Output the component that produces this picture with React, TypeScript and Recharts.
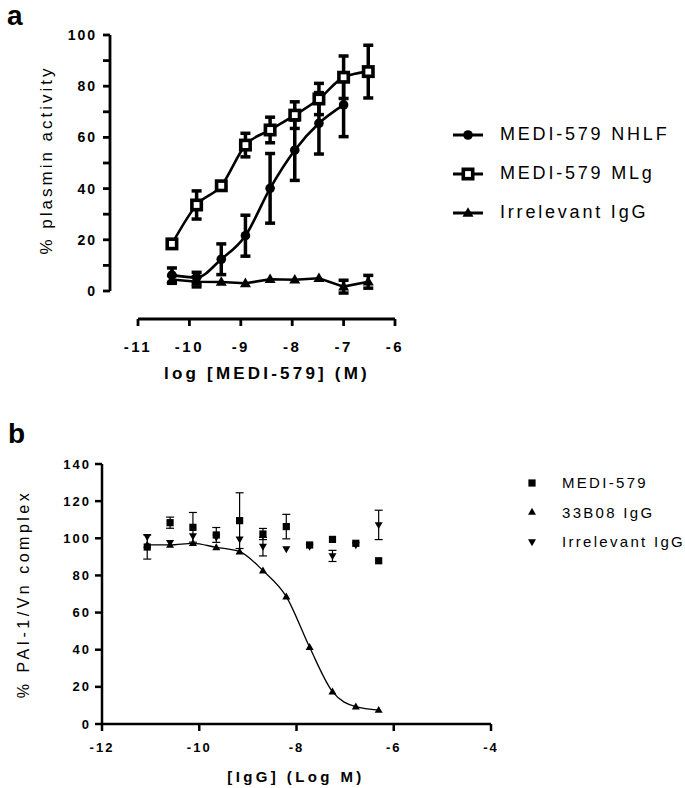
import React from "react";
import { ComposedChart, Line, Scatter, XAxis, YAxis, ErrorBar, ReferenceLine } from "recharts";

const FONT = "'Liberation Sans', Arial, sans-serif";

// panel a: 3-fold dilutions, log [MEDI-579] (M)
const doseA = [-10.34, -9.86, -9.38, -8.91, -8.43, -7.95, -7.48, -7.0, -6.52];
const nhlfMean = [6.2, 5.3, 12.4, 21.6, 40.1, 55.0, 65.5, 72.7];
const nhlfErr = [2.8, 2.0, 6.0, 8.0, 13.6, 11.8, 12.0, 12.4];
const mlgMean = [18.4, 33.6, 41.1, 57.0, 62.9, 68.7, 75.0, 83.5, 85.7];
const mlgErr = [null, 5.5, null, 4.6, 5.0, 5.2, 6.1, 8.3, 10.3];
const irrAMean = [4.5, 3.6, 3.5, 3.0, 4.6, 4.4, 5.0, 1.7, 3.6];
const irrAErr = [1.5, 2.0, null, null, null, null, null, 2.5, 2.5];
const ticksAX = [-11, -10, -9, -8, -7, -6];
const ticksAY = [0, 10, 20, 30, 40, 50, 60, 70, 80, 90, 100];

// panel b: [IgG] (Log M)
const doseB = [-11.07, -10.6, -10.13, -9.65, -9.17, -8.69, -8.21, -7.73, -7.26, -6.78, -6.31];
const medMean = [95.3, 108.4, 105.9, 101.8, 109.5, 102.3, 106.3, 96.4, 99.4, 97.3, 87.9];
const medErr = [6.5, 3.0, 8.0, 4.0, 15.0, 3.0, 6.6, null, null, null, null];
const b33Mean = [96.4, 96.4, 97.3, 95.1, 92.8, 82.6, 68.6, 41.3, 17.4, 9.3, 7.5];
const irrBMean = [100.8, 97.6, 101.2, 100.5, 99.4, 95.5, 94.2, 95.5, 90.5, 96.4, 107.2];
const irrBErr = [null, null, null, null, null, 5.0, null, null, 3.0, null, 7.9];
const ticksBX = [-12, -10, -8, -6, -4];
const ticksBY = [0, 20, 40, 60, 80, 100, 120, 140];

const rows = (xs: number[], ys: number[], es?: (number | null)[]) =>
  ys.map((y, i) => ({ x: xs[i], y, err: es ? es[i] : null }));

const nhlfRows = rows(doseA, nhlfMean, nhlfErr);
const mlgRows = rows(doseA, mlgMean, mlgErr);
const irrARows = rows(doseA, irrAMean, irrAErr);
const medRows = rows(doseB, medMean, medErr);
const b33Rows = rows(doseB, b33Mean);
const irrBRows = rows(doseB, irrBMean, irrBErr);

// panel a axis geometry (offset axes, Prism style)
const A_LEFT = 110;
const A_BOTTOM = 319;
const X_MIN_A = -11.545;
const Y_MIN_A = -10.94;

// panel b geometry (chart placed 400px down)
const B_LEFT = 102;
const B_BOTTOM = 324;

const tri = (cx: number, cy: number, s: number, up = true) => {
  const h = s * 0.87;
  return up
    ? `M${cx},${cy - h * 0.6} L${cx + s / 2},${cy + h * 0.4} L${cx - s / 2},${cy + h * 0.4} Z`
    : `M${cx},${cy + h * 0.6} L${cx + s / 2},${cy - h * 0.4} L${cx - s / 2},${cy - h * 0.4} Z`;
};

const dotCircle = (p: any) => <circle key={`c${p.index}`} cx={p.cx} cy={p.cy} r={4.8} fill="#000" />;
const dotOpenSq = (p: any) => (
  <rect key={`s${p.index}`} x={p.cx - 4.7} y={p.cy - 4.7} width={9.4} height={9.4} fill="#fff" stroke="#000" strokeWidth={3.6} />
);
const dotTriA = (p: any) => <path key={`t${p.index}`} d={tri(p.cx, p.cy, 11)} fill="#000" />;
const dotTriB = (p: any) => <path key={`u${p.index}`} d={tri(p.cx, p.cy, 8)} fill="#000" />;
const shapeSqB = (p: any) => <rect x={p.cx - 3.6} y={p.cy - 3.6} width={7.2} height={7.2} fill="#000" />;
const shapeDownB = (p: any) => <path d={tri(p.cx, p.cy, 8, false)} fill="#000" />;

const tickA_Y = (p: any) => {
  const v = p.payload.value;
  const major = v % 20 === 0;
  return (
    <g key={`ay${v}`}>
      <line x1={A_LEFT - 7} x2={A_LEFT} y1={p.y} y2={p.y} stroke="#000" strokeWidth={2.8} />
      {major && (
        <text x={97} y={p.y + 5} textAnchor="end" fontSize={14} fontWeight={700} letterSpacing={2} fontFamily={FONT} fill="#000">
          {v}
        </text>
      )}
    </g>
  );
};

const tickA_X = (p: any) => {
  const v = p.payload.value;
  return (
    <g key={`ax${v}`}>
      <line x1={p.x} x2={p.x} y1={A_BOTTOM} y2={A_BOTTOM + 7} stroke="#000" strokeWidth={2.8} />
      <text x={p.x} y={A_BOTTOM + 33} textAnchor="middle" fontSize={15} fontWeight={700} letterSpacing={2.5} fontFamily={FONT} fill="#000">
        {v}
      </text>
    </g>
  );
};

const tickB_Y = (p: any) => {
  const v = p.payload.value;
  return (
    <g key={`by${v}`}>
      <line x1={B_LEFT - 7} x2={B_LEFT} y1={p.y} y2={p.y} stroke="#000" strokeWidth={2.5} />
      <text x={91} y={p.y + 4.5} textAnchor="end" fontSize={13} fontWeight={700} letterSpacing={2} fontFamily={FONT} fill="#000">
        {v}
      </text>
    </g>
  );
};

const tickB_X = (p: any) => {
  const v = p.payload.value;
  return (
    <g key={`bx${v}`}>
      <line x1={p.x} x2={p.x} y1={B_BOTTOM} y2={B_BOTTOM + 7} stroke="#000" strokeWidth={2.5} />
      <text x={p.x} y={B_BOTTOM + 28} textAnchor="middle" fontSize={13} fontWeight={700} letterSpacing={2} fontFamily={FONT} fill="#000">
        {v}
      </text>
    </g>
  );
};

const abs = (extra: React.CSSProperties): React.CSSProperties => ({
  position: "absolute",
  fontFamily: FONT,
  color: "#000",
  whiteSpace: "nowrap",
  ...extra,
});

const vTitle = (text: string, cx: number, cy: number, size: number, ls: number, weight = 400) => (
  <div
    style={abs({
      left: cx,
      top: cy,
      fontSize: size,
      fontWeight: weight,
      letterSpacing: ls,
      transform: "translate(-50%, -50%) rotate(-90deg)",
    })}
  >
    {text}
  </div>
);

const hTitle = (text: string, cx: number, cy: number, size: number, ls: number) => (
  <div style={abs({ left: cx, top: cy, fontSize: size, fontWeight: 700, letterSpacing: ls, transform: "translate(-50%, -50%)" })}>
    {text}
  </div>
);

const legendA = [
  { label: "MEDI-579 NHLF", kind: "circle" },
  { label: "MEDI-579 MLg", kind: "square" },
  { label: "Irrelevant IgG", kind: "tri" },
];

const legendB = [
  { label: "MEDI-579", kind: "square" },
  { label: "33B08 IgG", kind: "up" },
  { label: "Irrelevant IgG", kind: "down" },
];

export default function App() {
  return (
    <div style={{ position: "absolute", left: 0, top: 0, width: 685, height: 788, background: "#fff", overflow: "hidden" }}>
      <div style={abs({ left: 7, top: 1, fontSize: 28, fontWeight: 700, lineHeight: "30px" })}>a</div>
      <div style={abs({ left: 8, top: 419, fontSize: 28, fontWeight: 700, lineHeight: "30px" })}>b</div>

      <div style={{ position: "absolute", left: 0, top: 0 }}>
        <ComposedChart width={685} height={400} margin={{ top: 35, right: 290, bottom: 11, left: 60 }}>
          <XAxis
            type="number"
            dataKey="x"
            domain={[X_MIN_A, -6]}
            allowDataOverflow
            ticks={ticksAX}
            axisLine={false}
            tickLine={false}
            tick={tickA_X}
            height={70}
          />
          <YAxis
            type="number"
            dataKey="y"
            domain={[Y_MIN_A, 100]}
            allowDataOverflow
            ticks={ticksAY}
            axisLine={false}
            tickLine={false}
            tick={tickA_Y}
            width={50}
          />
          <ReferenceLine segment={[{ x: X_MIN_A, y: 0 }, { x: X_MIN_A, y: 100 }]} stroke="#000" strokeWidth={2.8} ifOverflow="visible" />
          <ReferenceLine segment={[{ x: -11, y: Y_MIN_A }, { x: -6, y: Y_MIN_A }]} stroke="#000" strokeWidth={2.8} ifOverflow="visible" />
          <Line data={irrARows} dataKey="y" type="linear" stroke="#000" strokeWidth={2.6} dot={dotTriA} activeDot={false} isAnimationActive={false}>
            <ErrorBar dataKey="err" direction="y" width={5} strokeWidth={3.5} stroke="#000" />
          </Line>
          <Line data={nhlfRows} dataKey="y" type="monotone" stroke="#000" strokeWidth={2.6} dot={dotCircle} activeDot={false} isAnimationActive={false}>
            <ErrorBar dataKey="err" direction="y" width={5} strokeWidth={3.5} stroke="#000" />
          </Line>
          <Line data={mlgRows} dataKey="y" type="monotone" stroke="#000" strokeWidth={2.6} dot={dotOpenSq} activeDot={false} isAnimationActive={false}>
            <ErrorBar dataKey="err" direction="y" width={5} strokeWidth={3.5} stroke="#000" />
          </Line>
        </ComposedChart>
      </div>

      {vTitle("% plasmin activity", 47, 160, 17, 3)}
      {hTitle("log [MEDI-579] (M)", 267, 374, 17, 3.2)}

      <div style={{ position: "absolute", left: 453, top: 115, width: 232 }}>
        {legendA.map((it) => (
          <div key={it.label} style={{ display: "flex", alignItems: "center", height: 39, whiteSpace: "nowrap" }}>
            <svg width={32} height={18} style={{ flexShrink: 0 }}>
              <line x1={0} x2={30} y1={9} y2={9} stroke="#000" strokeWidth={3} />
              {it.kind === "circle" && <circle cx={15} cy={9} r={4.8} fill="#000" />}
              {it.kind === "square" && <rect x={10.3} y={4.3} width={9.4} height={9.4} fill="#fff" stroke="#000" strokeWidth={3.6} />}
              {it.kind === "tri" && <path d={tri(15, 9, 11)} fill="#000" />}
            </svg>
            <span style={{ marginLeft: 15, fontFamily: FONT, fontSize: 18, letterSpacing: 2.8, whiteSpace: "nowrap" }}>{it.label}</span>
          </div>
        ))}
      </div>

      <div style={{ position: "absolute", left: 0, top: 400 }}>
        <ComposedChart width={685} height={388} margin={{ top: 64, right: 194, bottom: 14, left: 52 }}>
          <XAxis
            type="number"
            dataKey="x"
            domain={[-12, -4]}
            allowDataOverflow
            ticks={ticksBX}
            axisLine={{ stroke: "#000", strokeWidth: 2.5 }}
            tickLine={false}
            tick={tickB_X}
            height={50}
          />
          <YAxis
            type="number"
            dataKey="y"
            domain={[0, 140]}
            allowDataOverflow
            ticks={ticksBY}
            axisLine={{ stroke: "#000", strokeWidth: 2.5 }}
            tickLine={false}
            tick={tickB_Y}
            width={50}
          />
          <Line data={b33Rows} dataKey="y" type="monotone" stroke="#000" strokeWidth={1.3} dot={dotTriB} activeDot={false} isAnimationActive={false} />
          <Scatter data={irrBRows} dataKey="y" shape={shapeDownB} isAnimationActive={false}>
            <ErrorBar dataKey="err" direction="y" width={4} strokeWidth={1.2} stroke="#000" />
          </Scatter>
          <Scatter data={medRows} dataKey="y" shape={shapeSqB} isAnimationActive={false}>
            <ErrorBar dataKey="err" direction="y" width={4} strokeWidth={1.2} stroke="#000" />
          </Scatter>
        </ComposedChart>
      </div>

      {vTitle("% PAI-1/Vn complex", 24, 594, 16, 3.5)}
      {hTitle("[IgG] (Log M)", 296, 776, 15, 3.4)}

      <div style={{ position: "absolute", left: 524, top: 468, width: 161 }}>
        {legendB.map((it) => (
          <div key={it.label} style={{ display: "flex", alignItems: "center", height: 29.5, whiteSpace: "nowrap" }}>
            <svg width={16} height={14} style={{ flexShrink: 0 }}>
              {it.kind === "square" && <rect x={4.4} y={3.4} width={7.2} height={7.2} fill="#000" />}
              {it.kind === "up" && <path d={tri(8, 7, 8)} fill="#000" />}
              {it.kind === "down" && <path d={tri(8, 7, 8, false)} fill="#000" />}
            </svg>
            <span style={{ marginLeft: 22, fontFamily: FONT, fontSize: 15, letterSpacing: 2.3, whiteSpace: "nowrap" }}>{it.label}</span>
          </div>
        ))}
      </div>
    </div>
  );
}
